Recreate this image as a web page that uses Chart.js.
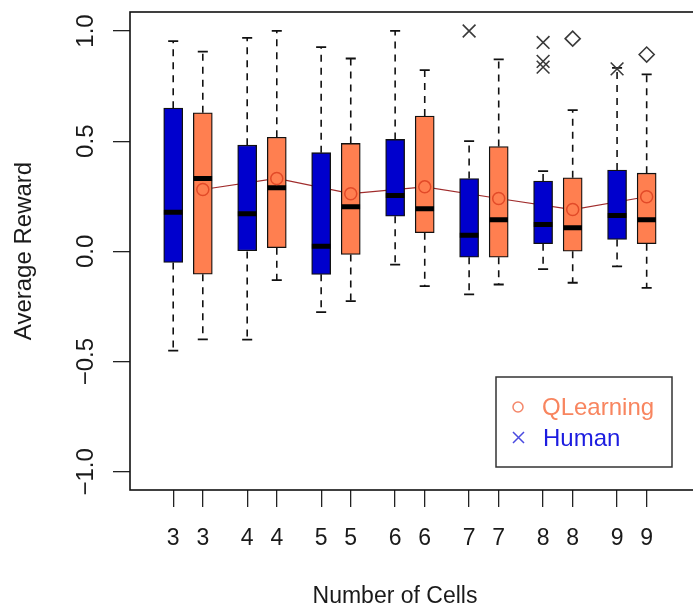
<!DOCTYPE html>
<html>
<head>
<meta charset="utf-8">
<script src="https://cdn.jsdelivr.net/npm/chart.js@4.4.1/dist/chart.umd.min.js"></script>
<style>
  html, body { margin: 0; padding: 0; background: #fff; overflow: hidden; }
  #wrap { width: 720px; height: 610px; }
</style>
</head>
<body>
<div id="wrap"><canvas id="chart"></canvas></div>
<script>
// number of cells, each one shown for Human (left) and QLearning (right)
const cells = [3, 4, 5, 6, 7, 8, 9];
const humanPos = [1, 3.5, 6, 8.5, 11, 13.5, 16];
const qlPos = [2, 4.5, 7, 9.5, 12, 14.5, 17];

// Human boxes
const humanLow = [-0.45, -0.40, -0.275, -0.06, -0.195, -0.08, -0.068];
const humanQ1 = [-0.05, 0.0, -0.104, 0.16, -0.026, 0.035, 0.054];
const humanMedian = [0.178, 0.171, 0.024, 0.254, 0.074, 0.122, 0.163];
const humanQ3 = [0.65, 0.482, 0.448, 0.508, 0.331, 0.319, 0.369];
const humanHigh = [0.954, 0.969, 0.927, 1.0, 0.5, 0.364, 0.833];
const humanOutliers = [[], [], [], [], [1.0], [0.948, 0.862, 0.836], [0.828]];

// QLearning boxes
const qlLow = [-0.399, -0.13, -0.225, -0.157, -0.15, -0.142, -0.165];
const qlQ1 = [-0.103, 0.017, -0.014, 0.085, -0.026, 0.001, 0.035];
const qlMedian = [0.331, 0.289, 0.203, 0.194, 0.144, 0.107, 0.144];
const qlQ3 = [0.629, 0.518, 0.49, 0.614, 0.476, 0.334, 0.355];
const qlHigh = [0.906, 1.0, 0.875, 0.822, 0.871, 0.641, 0.803];
const qlMean = [0.281, 0.331, 0.262, 0.293, 0.24, 0.19, 0.248];
const qlOutliers = [[], [], [], [], [], [0.965], [0.893]];

const yTicks = [-1, -0.5, 0, 0.5, 1];
const yTickLabels = ['\u22121.0', '\u22120.5', '0.0', '0.5', '1.0'];
const xTickPos = humanPos.flatMap((p, i) => [p, qlPos[i]]);
const xTickLabels = cells.flatMap(c => [String(c), String(c)]);

const BLUE = '#0000cd';
const CORAL = '#ff7f50';
const FONT = '"Liberation Sans", Arial, sans-serif';
const BOX_HALF = 0.315;   // half box width, x units
const CAP_HALF = 0.17;

function boxData(pos, q1, q3) {
    return pos.map((x, i) => ({ x: x, y: [q1[i], q3[i]] }));
}
function whiskerData(pos, lo, q1, q3, hi) {
    const pts = [];
    pos.forEach((x, i) => {
        pts.push({ x, y: q3[i] }, { x, y: hi[i] }, { x, y: null });
        pts.push({ x, y: q1[i] }, { x, y: lo[i] }, { x, y: null });
    });
    return pts;
}
function capData(pos, lo, hi) {
    const pts = [];
    pos.forEach((x, i) => {
        pts.push({ x: x - CAP_HALF, y: hi[i] }, { x: x + CAP_HALF, y: hi[i] }, { x, y: null });
        pts.push({ x: x - CAP_HALF, y: lo[i] }, { x: x + CAP_HALF, y: lo[i] }, { x, y: null });
    });
    return pts;
}
function medianData(pos, med) {
    const pts = [];
    pos.forEach((x, i) => {
        pts.push({ x: x - BOX_HALF, y: med[i] }, { x: x + BOX_HALF, y: med[i] }, { x, y: null });
    });
    return pts;
}
function outlierData(pos, outs) {
    return pos.flatMap((x, i) => outs[i].map(v => ({ x, y: v })));
}

const lineBase = { type: 'line', pointRadius: 0, tension: 0, spanGaps: false, fill: false };

// frame, rotated y labels, x title and legend, as R draws them
const rDecor = {
    id: 'rDecor',
    afterDraw(chart) {
        const ctx = chart.ctx;
        const a = chart.chartArea;
        const y = chart.scales.y;
        ctx.save();
        ctx.strokeStyle = '#111';
        ctx.lineWidth = 1.6;
        ctx.strokeRect(a.left, a.top, a.right - a.left, a.bottom - a.top);

        ctx.fillStyle = '#1a1a1a';
        ctx.font = '24px ' + FONT;
        ctx.textAlign = 'center';
        ctx.textBaseline = 'middle';
        yTicks.forEach((v, i) => {
            ctx.save();
            ctx.translate(86, y.getPixelForValue(v));
            ctx.rotate(-Math.PI / 2);
            ctx.fillText(yTickLabels[i], 0, 0);
            ctx.restore();
        });

        ctx.font = '23px ' + FONT;
        ctx.fillText('Number of Cells', 395, 597);

        // legend
        ctx.strokeStyle = '#333';
        ctx.lineWidth = 1.5;
        ctx.strokeRect(496, 377, 176, 90);
        ctx.strokeStyle = '#f4876a';
        ctx.beginPath();
        ctx.arc(518, 407, 5, 0, Math.PI * 2);
        ctx.stroke();
        ctx.strokeStyle = '#4a4ae0';
        ctx.beginPath();
        ctx.moveTo(513, 432); ctx.lineTo(524, 443);
        ctx.moveTo(524, 432); ctx.lineTo(513, 443);
        ctx.stroke();
        ctx.font = '24px ' + FONT;
        ctx.textAlign = 'left';
        ctx.fillStyle = '#f8855f';
        ctx.fillText('QLearning', 542, 408);
        ctx.fillStyle = '#1c1ce0';
        ctx.fillText('Human', 543, 439);
        ctx.restore();
    }
};

new Chart(document.getElementById('chart'), {
    type: 'bar',
    data: {
        datasets: [
            Object.assign({}, lineBase, {
                label: 'QLearning mean',
                data: qlPos.map((x, i) => ({ x, y: qlMean[i] })),
                borderColor: '#a02c2c', borderWidth: 1.2, order: 20
            }),
            Object.assign({}, lineBase, {
                label: 'Human whiskers',
                data: whiskerData(humanPos, humanLow, humanQ1, humanQ3, humanHigh),
                borderColor: '#111', borderWidth: 1.6, borderDash: [7, 6], order: 15
            }),
            Object.assign({}, lineBase, {
                label: 'QLearning whiskers',
                data: whiskerData(qlPos, qlLow, qlQ1, qlQ3, qlHigh),
                borderColor: '#111', borderWidth: 1.6, borderDash: [7, 6], order: 15
            }),
            Object.assign({}, lineBase, {
                label: 'caps',
                data: capData(humanPos, humanLow, humanHigh).concat(capData(qlPos, qlLow, qlHigh)),
                borderColor: '#111', borderWidth: 1.8, order: 14
            }),
            {
                label: 'Human',
                data: boxData(humanPos, humanQ1, humanQ3),
                backgroundColor: BLUE, borderColor: '#111', borderWidth: 1.3,
                borderSkipped: false, barThickness: 19, grouped: false, order: 10
            },
            {
                label: 'QLearning',
                data: boxData(qlPos, qlQ1, qlQ3),
                backgroundColor: CORAL, borderColor: '#111', borderWidth: 1.3,
                borderSkipped: false, barThickness: 19, grouped: false, order: 10
            },
            Object.assign({}, lineBase, {
                label: 'medians',
                data: medianData(humanPos, humanMedian).concat(medianData(qlPos, qlMedian)),
                borderColor: '#000', borderWidth: 5, borderCapStyle: 'butt', order: 5
            }),
            {
                type: 'line', label: 'mean points', showLine: false,
                data: qlPos.map((x, i) => ({ x, y: qlMean[i] })),
                pointStyle: 'circle', pointRadius: 6, pointBorderWidth: 1.5,
                pointBorderColor: '#e24a28', pointBackgroundColor: 'rgba(0,0,0,0)', order: 2
            },
            {
                type: 'line', label: 'Human outliers', showLine: false,
                data: outlierData(humanPos, humanOutliers),
                pointStyle: 'crossRot', pointRadius: 9, pointBorderWidth: 1.6,
                pointBorderColor: '#3a3a3a', order: 1
            },
            {
                type: 'line', label: 'QLearning outliers', showLine: false,
                data: outlierData(qlPos, qlOutliers),
                pointStyle: 'rectRot', pointRadius: 7.5, pointBorderWidth: 1.6,
                pointBorderColor: '#3a3a3a', pointBackgroundColor: 'rgba(0,0,0,0)', order: 1
            }
        ]
    },
    options: {
        responsive: true,
        maintainAspectRatio: false,
        devicePixelRatio: 1,
        animation: false,
        events: [],
        layout: { padding: { top: 12, left: 0, right: 0, bottom: 0 } },
        plugins: { legend: { display: false }, tooltip: { enabled: false } },
        scales: {
            x: {
                type: 'linear',
                min: -0.46,
                max: 19.12,
                offset: false,
                afterBuildTicks: scale => { scale.ticks = xTickPos.map(v => ({ value: v })); },
                afterFit: scale => { scale.height = 120; },
                ticks: {
                    autoSkip: false, maxRotation: 0, minRotation: 0, padding: 18,
                    color: '#1a1a1a', font: { family: FONT, size: 23 },
                    callback: (v, i) => xTickLabels[i]
                },
                grid: {
                    display: true, drawOnChartArea: false, drawTicks: true, offset: false,
                    tickLength: 17, color: '#222', lineWidth: 1.3
                },
                border: { display: false }
            },
            y: {
                type: 'linear',
                min: -1.082,
                max: 1.086,
                afterBuildTicks: scale => { scale.ticks = yTicks.map(v => ({ value: v })); },
                afterFit: scale => { scale.width = 130; },
                ticks: { display: false },
                grid: {
                    display: true, drawOnChartArea: false, drawTicks: true,
                    tickLength: 17, color: '#222', lineWidth: 1.3
                },
                border: { display: false },
                title: {
                    display: true, text: 'Average Reward', color: '#1a1a1a',
                    font: { family: FONT, size: 24, lineHeight: 1 },
                    padding: { top: 12, bottom: 0 }
                }
            }
        }
    },
    plugins: [rDecor]
});
</script>
</body>
</html>
